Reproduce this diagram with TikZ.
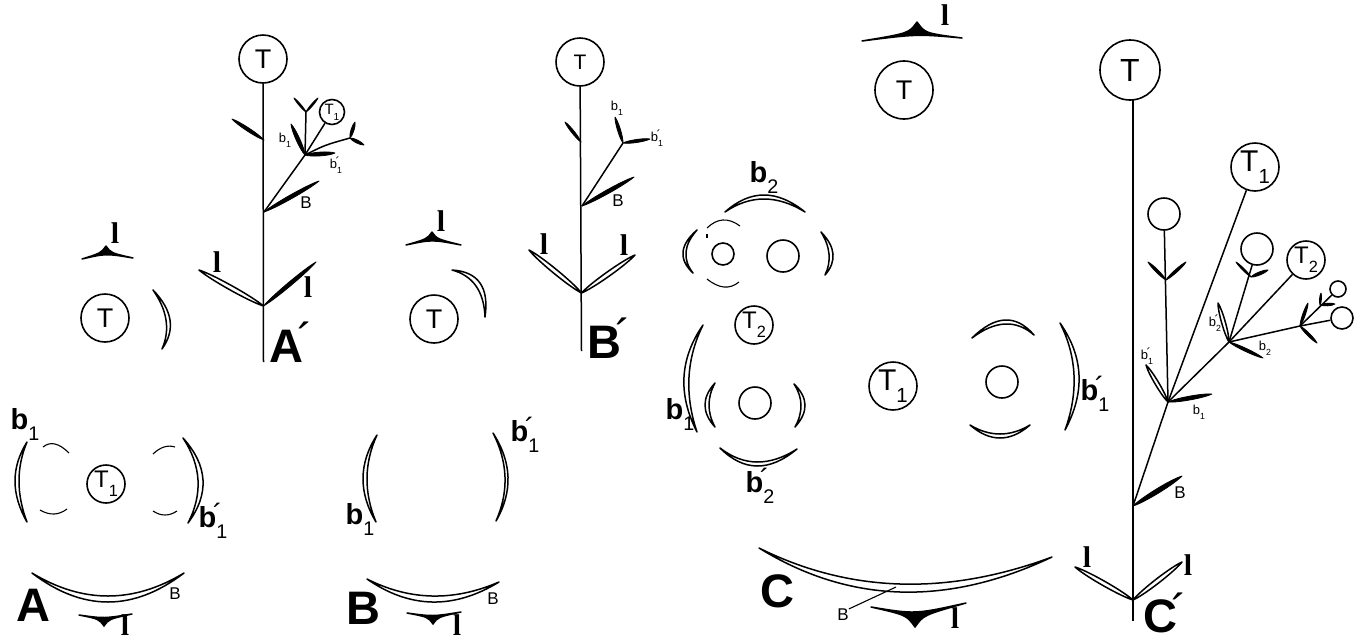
\documentclass[tikz,border=0pt]{standalone}
\usepackage{fontspec}
\usepackage{graphicx}
\setmainfont{Liberation Sans}
\newfontfamily\lfont{Liberation Serif}
\usetikzlibrary{calc}
\newcommand\dn[1]{\raisebox{-.38em}{\scalebox{.68}{\mdseries #1}}}
\newcommand\pr{\rlap{\kern-.12em\raisebox{.12em}{\mdseries\char"00B4}}}
% parabola from #1 to #2 through apex #3
\newcommand\para[3]{.. controls ($(#3)!-.3333!(#2)$) and ($(#3)!-.3333!(#1)$) ..}
% crescent: end, end, outer apex, inner apex
\newcommand\cres[4]{\path[cresc] (#1) \para{#1}{#2}{#3} (#2) \para{#2}{#1}{#4} (#1) -- cycle;}
\newcommand\thinarc[3]{\draw[thinline] (#1) \para{#1}{#2}{#3} (#2);}
\newcommand\leaf[3]{\filldraw[leafline] (#1) .. controls ($(#1)!.2!(#2)!#3!90:(#2)$) and ($(#1)!.8!(#2)!#3!90:(#2)$) .. (#2) .. controls ($(#1)!.8!(#2)!#3!-90:(#2)$) and ($(#1)!.2!(#2)!#3!-90:(#2)$) .. (#1) -- cycle;}
\newcommand\hleaf[3]{\path[cresc] (#1) .. controls ($(#1)!.2!(#2)!#3!90:(#2)$) and ($(#1)!.8!(#2)!#3!90:(#2)$) .. (#2) .. controls ($(#1)!.8!(#2)!#3!-90:(#2)$) and ($(#1)!.2!(#2)!#3!-90:(#2)$) .. (#1) -- cycle;}
\newcommand\tri[5]{\filldraw[triline] (#1) .. controls ($(#2)+({-5*#5},{7*#4*#5})$) .. (#2) .. controls ($(#2)+({5*#5},{7*#4*#5})$) .. (#3) .. controls ($(#2)+(0,{7.5*#4*#5})$) .. (#1) -- cycle;}
\tikzset{
  cresc/.style={draw=black,fill=white,line width=1.5pt,line join=round},
  leafline/.style={draw=black,fill=black,line width=.8pt,line join=round},
  triline/.style={draw=black,fill=black,line width=1.5pt,line join=round},
  thinline/.style={draw=black,line width=1.1pt},
  circ/.style={circle,draw=black,line width=1.6pt,fill=white,minimum size=#1,inner sep=0pt,font=\fontsize{27}{27}\selectfont},
  midt/.style={font=\fontsize{24}{24}\selectfont},
  lowt/.style={font=\fontsize{21}{21}\selectfont},
  larget/.style={font=\fontsize{32}{32}\selectfont},
  bigl/.style={inner sep=0pt,font=\fontsize{47}{47}\selectfont\bfseries},
  bl/.style={inner sep=0pt,font=\fontsize{29}{29}\selectfont\bfseries},
  smallb/.style={inner sep=0pt,font=\fontsize{17}{17}\selectfont},
  tinyb/.style={inner sep=0pt,font=\fontsize{13}{13}\selectfont},
  ll/.style={inner sep=0pt,font=\fontsize{30}{30}\selectfont\lfont\bfseries},
  stem/.style={draw=black,line width=1.5pt},
}
\begin{document}
\begin{tikzpicture}[x=1pt,y=-1pt]
\useasboundingbox (0,0) rectangle (1361,641);
\fill[white] (0,0) rectangle (1361,641);

%% ---------- A' ----------
\node[circ=48pt] (aT) at (263,59) {T};
\coordinate (aBase) at (263.5,362);
\coordinate (aLow) at (263.5,306);
\coordinate (aMid) at (264,212);
\coordinate (aTop) at (264,140);
\coordinate (aN) at (305,155);
\coordinate (aY) at (306,112);
\coordinate (aR) at (350,138);
\draw[stem] (aT) -- (aBase);
\draw[stem] (aMid) -- (aN);
\draw[stem] (aN) -- (aY);
\node[circ=25pt,font=\fontsize{15}{15}\selectfont] (aTa) at (332,112) {T\dn{1}};
\draw[stem] (aN) -- (aTa);
\draw[stem] (aN) .. controls (325,145) .. (aR);
\leaf{aTop}{232,119}{2.2pt}
\leaf{aMid}{319,181}{2.5pt}
\leaf{aN}{291,124}{2.5pt}
\leaf{aN}{335,153}{2.5pt}
\leaf{aY}{294,98}{1.2pt}
\leaf{aY}{318,98}{1.2pt}
\leaf{aR}{355,122}{2pt}
\leaf{aR}{364,145}{2pt}
\hleaf{aLow}{199,270}{3pt}
\leaf{aLow}{316,262}{2.5pt}
\node[smallb] (aBl) at (306,203) {B};
\node[ll] (al1) at (217,262) {l};
\node[ll] (al2) at (308,287) {l};
\node[tinyb] (ab1) at (285,140) {b\dn{1}};
\node[tinyb] (ab2) at (336,165) {b\pr\dn{1}};
\node[bigl] (aL) at (286,342) {A\pr};

%% left of A'
\tri{82,259}{106,246}{133,258}{1}{1}
\node[ll] (al0) at (115,233) {l};
\node[circ=48pt] (aT0) at (105,318) {T};
\cres{153,290}{162,349}{170,320}{166,320}

%% ---------- A (floral diagram) ----------
\node[circ=38pt,midt] (AT) at (106,484) {T\dn{1}};
\cres{27,442}{27,522}{15,481}{19,481}
\cres{183,438}{188,523}{203,480}{198,480}
\thinarc{43,447}{69,453}{55,444}
\thinarc{40,510}{67,509}{54,514}
\thinarc{153,454}{175,447}{164,447}
\thinarc{153,511}{177,511}{165,515}
\cres{32,573}{184,573}{108,602}{108,596}
\tri{79,615}{104,626}{132,614}{-1}{1}
\node[bl] (Ab1) at (25,424) {b\dn{1}};
\node[bl] (Ab2) at (213,521) {b\pr\dn{1}};
\node[smallb] (ABl) at (175,594) {B};
\node[ll] (All) at (125,625) {l};
\node[bigl] (AL) at (33,605) {A};

%% ---------- B' ----------
\node[circ=48pt,lowt] (bT) at (580,62) {T};
\coordinate (bBase) at (581.5,351);
\coordinate (bLow) at (581.5,293);
\coordinate (bMid) at (582,206);
\coordinate (bTop) at (581,142);
\coordinate (bN) at (623,143);
\draw[stem] (bT) -- (bBase);
\draw[stem] (bMid) -- (bN);
\leaf{bTop}{565,122}{1.8pt}
\leaf{bMid}{634,177}{2.5pt}
\leaf{bN}{615,117}{2pt}
\leaf{bN}{650,139}{2pt}
\hleaf{bLow}{529,250}{3pt}
\hleaf{bLow}{635,255}{3pt}
\node[smallb] (bBl) at (618,201) {B};
\node[ll] (bl1) at (544,244) {l};
\node[ll] (bl2) at (624,245) {l};
\node[tinyb] (bb1) at (617,108) {b\dn{1}};
\node[tinyb] (bb2) at (657,138) {b\pr\dn{1}};
\node[bigl] (bL) at (604,338) {B\pr};

%% left of B'
\tri{406,245}{432,232}{461,245}{1}{1}
\node[ll] (bl0) at (441,221) {l};
\node[circ=48pt] (bT0) at (434,319) {T};
\cres{452,270}{485,317}{480,283}{476,286}

%% ---------- B (floral diagram) ----------
\cres{377,435}{376,522}{363,478}{367,478}
\cres{493,433}{496,521}{508,477}{505,477}
\cres{367,579}{499,582}{432,602}{432,596}
\tri{407,613}{433,624}{461,612}{-1}{1}
\node[bl] (Bb1) at (360,519) {b\dn{1}};
\node[bl] (Bb2) at (525,435) {b\pr\dn{1}};
\node[smallb] (BBl) at (493,599) {B};
\node[ll] (Bll) at (457,625) {l};
\node[bigl] (BL) at (363,608) {B};

%% ---------- C (floral diagram) ----------
\tri{862,41}{917,22}{962,38}{1}{1.6}
\node[ll] (Cl0) at (945,15) {l};
\node[circ=58pt] (CT) at (904,90) {T};
\node[circ=38pt,midt] (CT2) at (754,325) {T\dn{2}};
\node[circ=48pt,font=\fontsize{30}{30}\selectfont] (CT1) at (893,386) {T\dn{1}};
\node[circ=22pt] (Cs1) at (723,254) {};
\node[circ=32pt] (Cs2) at (783,256) {};
\node[circ=32pt] (Cs3) at (755,403) {};
\node[circ=32pt] (Cs4) at (1002,382) {};
\cres{725,212}{805,212}{764,195}{764,199}
\thinarc{707,228}{740,226}{723,220}
\draw[thinline] (707,234) -- (707,238);
\cres{697,230}{693,273}{683,252}{686,252}
\cres{821,232}{825,275}{833,254}{829,254}
\thinarc{707,279}{739,282}{724,287}
\cres{703,325}{697,432}{684,377}{689,377}
\cres{715,383}{715,427}{705,405}{709,405}
\cres{794,384}{795,427}{805,405}{801,405}
\cres{720,448}{797,449}{757,466}{757,462}
\cres{972,338}{1034,335}{1005,320}{1005,324}
\cres{970,425}{1030,425}{1000,438}{1000,434}
\cres{1060,323}{1065,430}{1079,375}{1074,375}
\cres{759,548}{1052,557}{900,592}{900,584}
\tri{871,607}{915,627}{966,603}{-1}{1.7}
\node[bl] (Cb2) at (764,177) {b\dn{2}};
\node[bl] (Cb1) at (680,414) {b\dn{1}};
\node[bl] (Cb2p) at (760,486) {b\pr\dn{2}};
\node[bl] (Cb1p) at (1095,394) {b\pr\dn{1}};
\node[smallb] (CBl) at (843,615) {B};
\coordinate (CBend) at (896,587);
\draw[thinline] (CBl.north east) -- (CBend);
\node[ll] (Cll) at (955,618) {l};
\node[bigl] (CL) at (777,591) {C};

%% ---------- C' ----------
\node[circ=60pt,larget] (cT) at (1130,70) {T};
\coordinate (cBase) at (1133,621);
\coordinate (cStemTop) at (1133,100);
\coordinate (cLow) at (1133,600);
\coordinate (cMid) at (1133,506);
\coordinate (cN) at (1168,402);
\coordinate (cN2) at (1229,342);
\coordinate (cN3) at (1300,326);
\coordinate (cYa) at (1166,280);
\coordinate (cYb) at (1251,277);
\coordinate (cYc) at (1320,305);
\draw[stem] (cStemTop) -- (cBase);
\draw[stem] (cMid) -- (cN);
\node[circ=48pt,font=\fontsize{30}{30}\selectfont] (cTa) at (1255,167) {T\dn{1}};
\node[circ=32pt] (cCa) at (1164,214) {};
\node[circ=32pt] (cCb) at (1257,249) {};
\node[circ=38pt,midt] (cTb) at (1306,260) {T\dn{2}};
\node[circ=22pt] (cCc) at (1342,318) {};
\node[circ=16pt] (cCd) at (1338,289) {};
\draw[stem] (cN) -- (cTa);
\draw[stem] (cN) -- (cCa);
\draw[stem] (cN) -- (cN2);
\draw[stem] (cN2) -- (cCb);
\draw[stem] (cN2) -- (cTb);
\draw[stem] (cN2) -- (cN3);
\draw[stem] (cN3) -- (cCc);
\draw[stem] (cN3) -- (cCd);
\leaf{cYa}{1148,262}{1.8pt}
\leaf{cYa}{1186,262}{1.8pt}
\leaf{cN}{1212,394}{2.5pt}
\hleaf{cN}{1146,365}{2.5pt}
\leaf{cYb}{1236,262}{1.3pt}
\leaf{cYb}{1268,270}{2pt}
\hleaf{cN2}{1218,303}{2.5pt}
\leaf{cN2}{1263,358}{2pt}
\leaf{cN3}{1308,303}{1.8pt}
\leaf{cN3}{1317,343}{1.8pt}
\leaf{cYc}{1321,293}{1.3pt}
\leaf{cYc}{1335,304}{1.8pt}
\leaf{cMid}{1182,476}{3pt}
\hleaf{cLow}{1075,567}{3pt}
\hleaf{cLow}{1182,562}{3pt}
\node[tinyb] (cb1) at (1199,412) {b\dn{1}};
\node[tinyb] (cb1p) at (1147,356) {b\pr\dn{1}};
\node[tinyb] (cb2p) at (1215,323) {b\pr\dn{2}};
\node[tinyb] (cb2) at (1265,348) {b\dn{2}};
\node[smallb] (cBl) at (1180,493) {B};
\node[ll] (cl1) at (1087,557) {l};
\node[ll] (cl2) at (1188,565) {l};
\node[bigl] (cL) at (1160,613) {C\pr};
\end{tikzpicture}
\end{document}
